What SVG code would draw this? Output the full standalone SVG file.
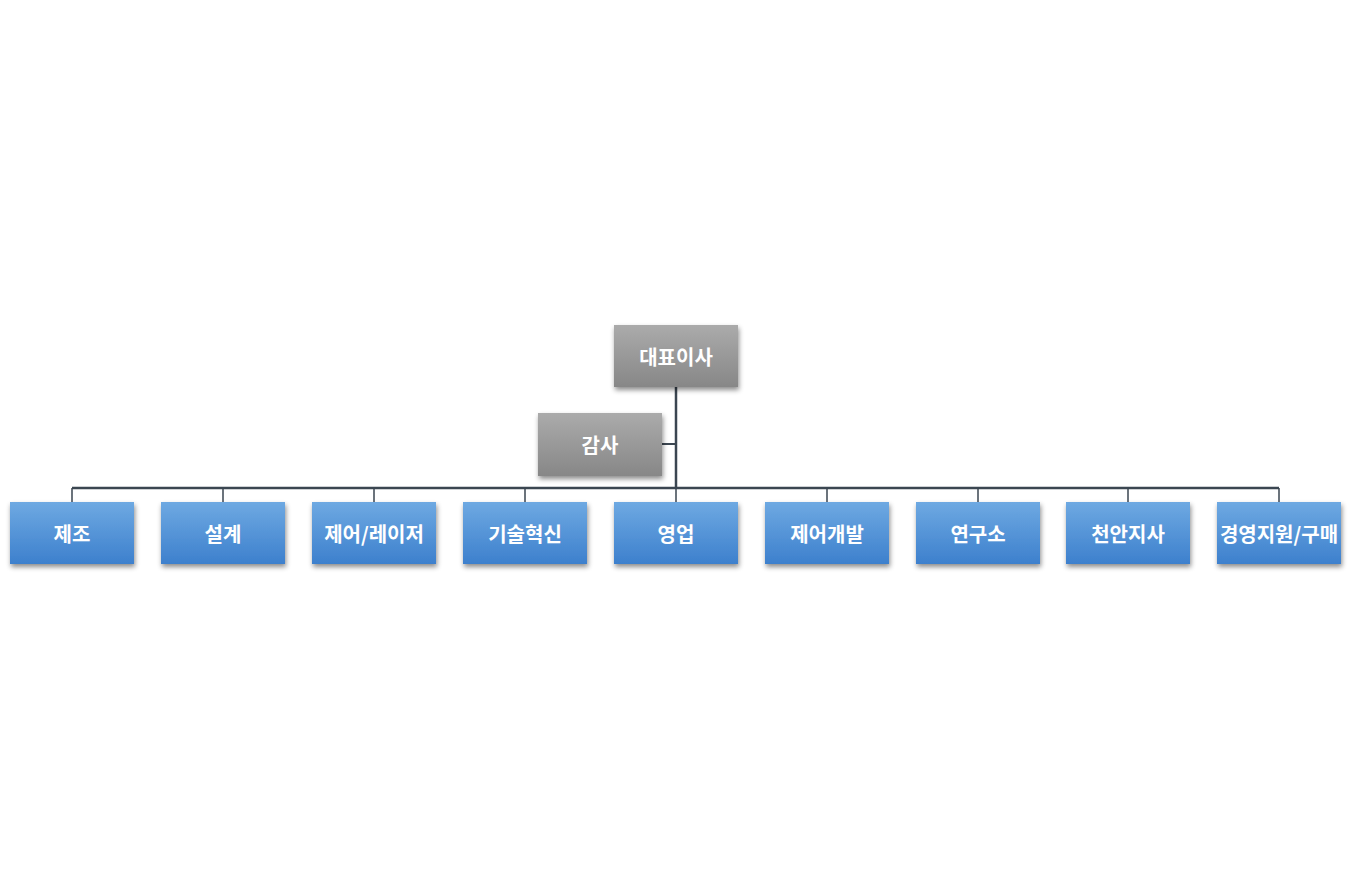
<svg xmlns="http://www.w3.org/2000/svg" width="1367" height="889" viewBox="0 0 1367 889">
<defs>
<linearGradient id="gGray" x1="0" y1="0" x2="0" y2="1"><stop offset="0" stop-color="#ababab"/><stop offset="1" stop-color="#878787"/></linearGradient>
<linearGradient id="gBlue" x1="0" y1="0" x2="0" y2="1"><stop offset="0" stop-color="#6ea9e2"/><stop offset="1" stop-color="#3d80cd"/></linearGradient>
<filter id="sh" x="-20%" y="-20%" width="140%" height="150%"><feDropShadow dx="1" dy="3" stdDeviation="2.5" flood-color="#000" flood-opacity="0.45"/></filter>
</defs>
<style>
.box{filter:url(#sh)}
.gray{fill:url(#gGray)}
.blue{fill:url(#gBlue)}
.t{font-family:"Noto Sans CJK KR","Noto Sans",sans-serif;font-weight:bold;font-size:20px;fill:#fff;text-anchor:middle;dominant-baseline:central}
.c{stroke:#3b4651;fill:none}
</style>
<rect width="1367" height="889" fill="#fff"/>
<g id="connectors">
<path class="c" stroke-width="2.5" d="M676 387V488"/>
<path class="c" stroke-width="2" d="M662 444H676"/>
<path class="c" stroke-width="2.5" d="M72 488H1279"/>
<path class="c" stroke-width="1.5" d="M72 488V502M223 488V502M374 488V502M525 488V502M676 488V502M827 488V502M978 488V502M1128 488V502M1279 488V502"/>
</g>
<g id="n-ceo"><rect class="box gray" x="614" y="325" width="124" height="62"/><text class="t" x="676" y="356">대표이사</text></g>
<g id="n-audit"><rect class="box gray" x="538" y="413" width="124" height="63"/><text class="t" x="600" y="444">감사</text></g>
<g id="n1"><rect class="box blue" x="10" y="502" width="124" height="62"/><text class="t" x="72" y="533">제조</text></g>
<g id="n2"><rect class="box blue" x="161" y="502" width="124" height="62"/><text class="t" x="223" y="533">설계</text></g>
<g id="n3"><rect class="box blue" x="312" y="502" width="124" height="62"/><text class="t" x="374" y="533">제어/레이저</text></g>
<g id="n4"><rect class="box blue" x="463" y="502" width="124" height="62"/><text class="t" x="525" y="533">기술혁신</text></g>
<g id="n5"><rect class="box blue" x="614" y="502" width="124" height="62"/><text class="t" x="676" y="533">영업</text></g>
<g id="n6"><rect class="box blue" x="765" y="502" width="124" height="62"/><text class="t" x="827" y="533">제어개발</text></g>
<g id="n7"><rect class="box blue" x="916" y="502" width="124" height="62"/><text class="t" x="978" y="533">연구소</text></g>
<g id="n8"><rect class="box blue" x="1066" y="502" width="124" height="62"/><text class="t" x="1128" y="533">천안지사</text></g>
<g id="n9"><rect class="box blue" x="1217" y="502" width="124" height="62"/><text class="t" x="1279" y="533">경영지원/구매</text></g>
</svg>
